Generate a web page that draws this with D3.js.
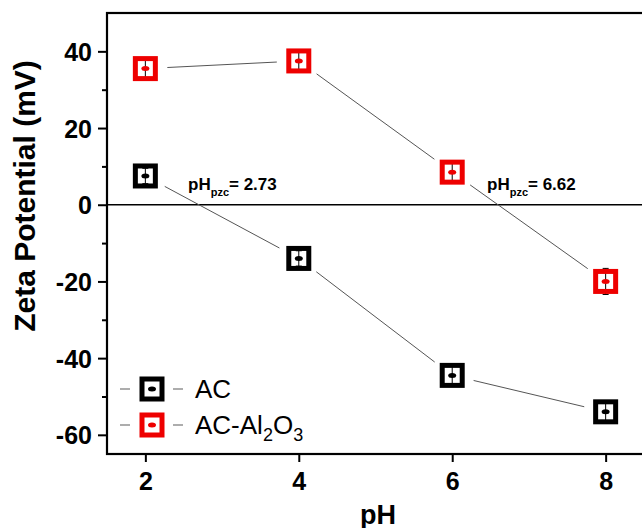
<!DOCTYPE html>
<html>
<head>
<meta charset="utf-8">
<script src="https://cdn.jsdelivr.net/npm/d3@7"></script>
<style>
  body { margin: 0; background: #fff; }
  svg { font-family: Arial, "Liberation Sans", sans-serif; }
</style>
</head>
<body>
<svg width="642" height="528"></svg>
<script>
'use strict';

const pH = [2, 4, 6, 8];
const acValues = [7.5, -14, -44.5, -54];
const acErrors = [2, 2, 2.5, 2.5];
const alValues = [35.5, 37.5, 8.5, -20];
const alErrors = [2.8, 2.8, 2.3, 3.4];
const yMajorTicks = [-60, -40, -20, 0, 20, 40];
const yMinorTicks = [-50, -30, -10, 10, 30];
const pzcLabels = [
  {x: 2.73, text: "2.73"},
  {x: 6.62, text: "6.62"}
];

const width = 642, height = 528;
const margin = {top: 13, left: 107, bottom: 74};

let svg = d3.select("svg");

let x = d3.scaleLinear().domain([1.5, 8.5]).range([margin.left, 644]);
let y = d3.scaleLinear().domain([-65, 50]).range([height - margin.bottom, margin.top]);

let series = [
  {name: "AC", color: "#000000", values: acValues, errors: acErrors},
  {name: "AC-Al2O3", color: "#ee0000", values: alValues, errors: alErrors}
];

// axes
svg.append("g")
    .attr("transform", `translate(${margin.left},0)`)
    .call(d3.axisLeft(y).tickValues(yMinorTicks).tickSize(5).tickFormat(""))
    .call(g => g.select(".domain").remove())
    .call(g => g.selectAll("line").attr("stroke-width", 2));

svg.append("g")
    .attr("transform", `translate(${margin.left},0)`)
    .call(d3.axisLeft(y).tickValues(yMajorTicks).tickSize(9).tickPadding(6))
    .call(g => g.select(".domain").remove())
    .call(g => g.selectAll("line").attr("stroke-width", 2))
    .call(g => g.selectAll("text")
      .attr("font-size", 25).attr("font-weight", "bold")
      .attr("font-family", "Arial, 'Liberation Sans', sans-serif")
      .attr("dy", "0.36em")
      .text(d => d < 0 ? "-" + Math.abs(d) : d));

svg.append("g")
    .attr("transform", `translate(0,${y(-65)})`)
    .call(d3.axisBottom(x).tickValues(pH).tickSize(8).tickPadding(10).tickFormat(d3.format("d")))
    .call(g => g.select(".domain").remove())
    .call(g => g.selectAll("line").attr("stroke-width", 2))
    .call(g => g.selectAll("text")
      .attr("font-size", 25).attr("font-weight", "bold")
      .attr("font-family", "Arial, 'Liberation Sans', sans-serif"));

// frame
svg.append("rect")
    .attr("x", margin.left)
    .attr("y", y(50))
    .attr("width", x(8.5) - margin.left)
    .attr("height", y(-65) - y(50))
    .attr("fill", "none")
    .attr("stroke", "#000")
    .attr("stroke-width", 2.2);

// zero line
svg.append("line")
    .attr("x1", margin.left).attr("x2", x(8.5))
    .attr("y1", y(0)).attr("y2", y(0))
    .attr("stroke", "#000")
    .attr("stroke-width", 1.6);

// connecting lines with gaps round markers
const gap = 22;
series.forEach(s => {
  let pts = pH.map((p, i) => [x(p), y(s.values[i])]);
  let segs = d3.pairs(pts).map(([a, b]) => {
    let dx = b[0] - a[0], dy = b[1] - a[1];
    let len = Math.hypot(dx, dy);
    let ux = dx / len, uy = dy / len;
    return [a[0] + ux * gap, a[1] + uy * gap, b[0] - ux * gap, b[1] - uy * gap];
  });
  svg.append("g").selectAll("line")
    .data(segs)
    .join("line")
      .attr("x1", d => d[0]).attr("y1", d => d[1])
      .attr("x2", d => d[2]).attr("y2", d => d[3])
      .attr("stroke", "#555")
      .attr("stroke-width", 1);
});

const half = 10;
function markerBack(g) {
  g.append("rect")
      .attr("x", -half).attr("y", -half)
      .attr("width", 2 * half).attr("height", 2 * half)
      .attr("fill", "#fff");
}
function markerFront(g, color) {
  g.append("ellipse")
      .attr("rx", 4).attr("ry", 2.5)
      .attr("fill", color);
  g.append("rect")
      .attr("x", -half).attr("y", -half)
      .attr("width", 2 * half).attr("height", 2 * half)
      .attr("fill", "none")
      .attr("stroke", color)
      .attr("stroke-width", 5);
}

// markers + error bars
series.forEach(s => {
  let pts = svg.append("g").selectAll("g")
    .data(pH.map((p, i) => ({p, v: s.values[i], e: s.errors[i]})))
    .join("g")
      .attr("transform", d => `translate(${x(d.p)},${y(d.v)})`);
  pts.each(function() { markerBack(d3.select(this)); });
  pts.append("line")
      .attr("y1", d => y(d.v + d.e) - y(d.v))
      .attr("y2", d => y(d.v - d.e) - y(d.v))
      .attr("stroke", "#000").attr("stroke-width", 1);
  pts.selectAll(".cap")
    .data(d => [d.v + d.e, d.v - d.e].map(t => y(t) - y(d.v)))
    .join("line")
      .attr("x1", -3).attr("x2", 3)
      .attr("y1", d => d).attr("y2", d => d)
      .attr("stroke", "#000").attr("stroke-width", 1);
  pts.each(function() { markerFront(d3.select(this), s.color); });
});

// pH_pzc annotations
const pzcX = [188, 487];
pzcLabels.forEach((d, i) => {
  let t = svg.append("text")
      .attr("x", pzcX[i]).attr("y", 190)
      .attr("font-size", 17).attr("font-weight", "bold");
  t.append("tspan").text("pH");
  t.append("tspan").attr("font-size", 11).attr("dy", 6).text("pzc");
  t.append("tspan").attr("dy", -6).text("= " + d.text);
});

// legend
const legendY = [389, 425];
series.forEach((s, i) => {
  let g = svg.append("g").attr("transform", `translate(0,${legendY[i]})`);
  g.append("line").attr("x1", 120).attr("x2", 130).attr("stroke", "#777").attr("stroke-width", 1.2);
  g.append("line").attr("x1", 173).attr("x2", 183).attr("stroke", "#777").attr("stroke-width", 1.2);
  let m = g.append("g").attr("transform", "translate(152,0)");
  markerBack(m);
  markerFront(m, s.color);
  let t = g.append("text").attr("x", 195).attr("y", 9).attr("font-size", 26);
  if (s.name === "AC") {
    t.text("AC");
  } else {
    t.append("tspan").text("AC-Al");
    t.append("tspan").attr("font-size", 18).attr("dy", 7).text("2");
    t.append("tspan").attr("dy", -7).text("O");
    t.append("tspan").attr("font-size", 18).attr("dy", 7).text("3");
  }
});

// axis titles
svg.append("text")
    .attr("transform", "translate(35,196) rotate(-90)")
    .attr("text-anchor", "middle")
    .attr("font-size", 30).attr("font-weight", "bold")
    .text("Zeta Potential (mV)");

svg.append("text")
    .attr("x", 378).attr("y", 524)
    .attr("text-anchor", "middle")
    .attr("font-size", 27).attr("font-weight", "bold")
    .text("pH");
</script>
</body>
</html>
